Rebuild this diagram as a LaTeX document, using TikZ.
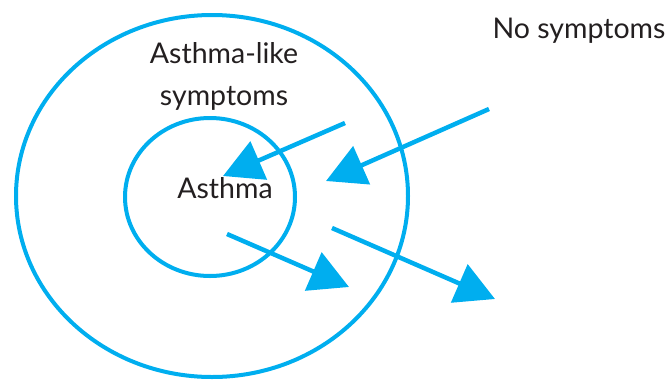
\documentclass[tikz,border=0pt]{standalone}
\usepackage{fontspec}
\setmainfont{Lato}
\usetikzlibrary{arrows.meta,shapes.geometric}
\definecolor{skyblue}{RGB}{0,174,239}
\definecolor{ink}{RGB}{35,31,32}
\tikzset{
  >={Triangle[length=39pt,width=41pt]},
  ring/.style={ellipse,draw=skyblue,line width=4pt,inner sep=0pt},
  move/.style={->,draw=skyblue,line width=4.5pt},
  tag/.style={font=\fontsize{28.5}{42}\selectfont,text=ink,align=center},
}

\begin{document}
\begin{tikzpicture}[x=1pt,y=-1pt]
  \useasboundingbox (0,0) rectangle (672,381);
  % populations
  \node[ring,minimum width=392pt,minimum height=362pt] (outer) at (212,196) {};
  \node[ring,minimum width=170pt,minimum height=158pt] (inner) at (210,197) {};
  \node[tag] (likelab) at (224,76) {Asthma-like\\symptoms};
  \node[tag] (asthmalab) at (225,188) {Asthma};
  \node[tag] (nonelab) at (579,31) {No symptoms};
  % shifts between groups
  \coordinate (a1) at (345,123);  \coordinate (b1) at (223,176);
  \coordinate (a2) at (489,109);  \coordinate (b2) at (326,181);
  \coordinate (a3) at (227,234);  \coordinate (b3) at (349,287);
  \coordinate (a4) at (332,228);  \coordinate (b4) at (495,299);
  \foreach \i in {1,...,4}
    \draw[move] (a\i) -- (b\i);
\end{tikzpicture}
\end{document}
